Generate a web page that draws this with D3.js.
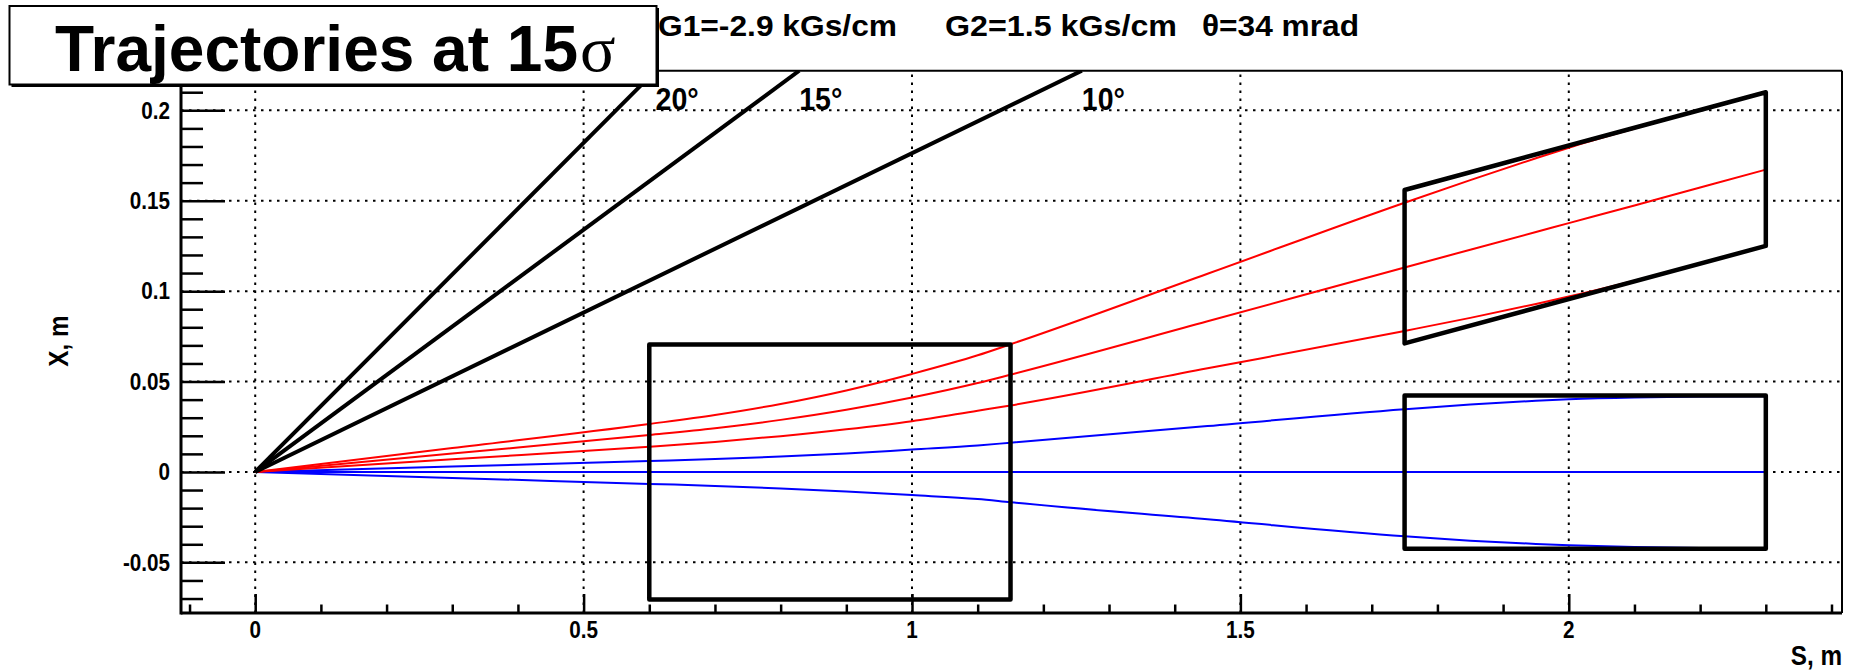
<!DOCTYPE html>
<html>
<head>
<meta charset="utf-8">
<script src="https://cdn.jsdelivr.net/npm/d3@7/dist/d3.min.js"></script>
<style>
  html, body { margin: 0; padding: 0; background: #fff; }
  svg { display: block; }
  text { font-family: "Liberation Sans", Arial, Helvetica, sans-serif; font-weight: bold; fill: #000; }
</style>
</head>
<body>
<svg id="chart" width="1859" height="672"></svg>
<script>
// ---------------- data ----------------
const S = [0, 0.3, 0.6, 0.7, 0.8, 0.9, 1.0, 1.1, 1.15, 1.45, 1.75, 1.85, 1.95, 2.0, 2.1, 2.2, 2.3];
const redUpper  = [0, 0.0132, 0.0265, 0.0315, 0.0376, 0.0451, 0.0542, 0.0645, 0.0706, 0.1096, 0.1489, 0.1614, 0.1735, 0.1793, 0.1899, 0.2001, 0.2100];
const redMiddle = [0, 0.0102, 0.0204, 0.0242, 0.0288, 0.0344, 0.0412, 0.0492, 0.0538, 0.0833, 0.1131, 0.1229, 0.1327, 0.1376, 0.1474, 0.1573, 0.1672];
const redLower  = [0, 0.0070, 0.0139, 0.0166, 0.0198, 0.0236, 0.0281, 0.0339, 0.0368, 0.0573, 0.0780, 0.0852, 0.0929, 0.0970, 0.1058, 0.1152, 0.1250];
const blueUpper = [0, 0.0030, 0.0060, 0.0071, 0.0085, 0.0102, 0.0124, 0.0146, 0.0162, 0.0254, 0.0347, 0.0373, 0.0394, 0.0402, 0.0412, 0.0417, 0.0418];
const blueMiddle= [0, 0, 0, 0, 0, 0, 0, 0, 0, 0, 0, 0, 0, 0, 0, 0, 0];
const blueLower = [0, -0.0033, -0.0066, -0.0077, -0.0091, -0.0108, -0.0128, -0.0150, -0.0168, -0.0262, -0.0356, -0.0380, -0.0398, -0.0405, -0.0415, -0.0420, -0.0422];

// straight lines from the origin (end points on the frame top)
const angleLabels = ["20°", "15°", "10°"];
const angleEndS   = [0.6096, 0.8283, 1.2586];
const angleEndX   = [0.2219, 0.2219, 0.2219];
const angleLabelX = 0.2;

// quadrupole apertures
const quad1 = [[0.6, -0.0705], [0.6, 0.0705], [1.15, 0.0705], [1.15, -0.0705]];
const quad2 = [[1.75, -0.0425], [1.75, 0.0423], [2.3, 0.0423], [2.3, -0.0425]];
const quad2tilt = [[1.75, 0.0711], [1.75, 0.1559], [2.3, 0.2100], [2.3, 0.1250]];

const xTicks = [0, 0.5, 1, 1.5, 2];
const xTickLabels = ["0", "0.5", "1", "1.5", "2"];
const yTicks = [-0.05, 0, 0.05, 0.1, 0.15, 0.2];
const yTickLabels = ["-0.05", "0", "0.05", "0.1", "0.15", "0.2"];
const xMinor = [-0.1, 0.1, 0.2, 0.3, 0.4, 0.6, 0.7, 0.8, 0.9, 1.1, 1.2, 1.3, 1.4, 1.6, 1.7, 1.8, 1.9, 2.1, 2.2, 2.3, 2.4];
const yMinor = [-0.07, -0.06, -0.04, -0.03, -0.02, -0.01, 0.01, 0.02, 0.03, 0.04, 0.06, 0.07, 0.08, 0.09,
                0.11, 0.12, 0.13, 0.14, 0.16, 0.17, 0.18, 0.19, 0.21, 0.22];

const titleText = "Trajectories at 15";
const titleSymbol = "σ";
const headerTexts = ["G1=-2.9 kGs/cm", "G2=1.5 kGs/cm", "θ=34 mrad"];
const xTitle = "S, m";
const yTitle = "X, m";

// ---------------- layout ----------------
const svg = d3.select("#chart");
const W = 1859, H = 672;
const frame = { left: 181, right: 1842, top: 70.7, bottom: 613 };

const x = d3.scaleLinear().domain([-0.113, 2.416]).range([frame.left, frame.right]);
const y = d3.scaleLinear().domain([-0.078, 0.2219]).range([frame.bottom, frame.top]);

svg.append("rect").attr("width", W).attr("height", H).attr("fill", "#fff");

svg.append("defs").append("clipPath").attr("id", "plotclip")
  .append("rect")
  .attr("x", frame.left).attr("y", frame.top)
  .attr("width", frame.right - frame.left).attr("height", frame.bottom - frame.top);

// helper for condensed text
function label(g, px, py, str, size, anchor, sx, rot) {
  return g.append("text")
    .attr("transform", `translate(${px},${py})` + (rot ? ` rotate(${rot})` : "") + ` scale(${sx},1)`)
    .attr("text-anchor", anchor).attr("font-size", size).text(str);
}

// grid
const grid = svg.append("g").attr("stroke", "#000").attr("stroke-width", 2).attr("stroke-dasharray", "2.5,5.5");
grid.selectAll(".gx").data(xTicks).join("line")
  .attr("x1", d => x(d)).attr("x2", d => x(d))
  .attr("y1", frame.bottom).attr("y2", frame.top);
grid.selectAll(".gy").data(yTicks).join("line")
  .attr("y1", d => y(d)).attr("y2", d => y(d))
  .attr("x1", frame.left).attr("x2", frame.right);

// axes via d3 (ticks drawn inward)
const xAxisMajor = d3.axisTop(x).tickValues(xTicks).tickSize(19).tickFormat("");
const xAxisMinor = d3.axisTop(x).tickValues(xMinor).tickSize(8.5).tickFormat("");
const yAxisMajor = d3.axisRight(y).tickValues(yTicks).tickSize(44).tickFormat("");
const yAxisMinor = d3.axisRight(y).tickValues(yMinor).tickSize(22).tickFormat("");

function styleAxis(g) {
  g.select(".domain").remove();
  g.selectAll(".tick line").attr("stroke", "#000").attr("stroke-width", 2.5);
}
svg.append("g").attr("transform", `translate(0,${frame.bottom})`).call(xAxisMinor).call(styleAxis);
svg.append("g").attr("transform", `translate(0,${frame.bottom})`).call(xAxisMajor).call(styleAxis);
svg.append("g").attr("transform", `translate(${frame.left},0)`).call(yAxisMinor).call(styleAxis);
svg.append("g").attr("transform", `translate(${frame.left},0)`).call(yAxisMajor).call(styleAxis);

// curves
const plot = svg.append("g").attr("clip-path", "url(#plotclip)");
const line = d3.line().x(d => x(d[0])).y(d => y(d[1])).curve(d3.curveMonotoneX);

const redSeries = [redUpper, redMiddle, redLower];
const blueSeries = [blueUpper, blueMiddle, blueLower];
blueSeries.forEach(v => {
  plot.append("path").attr("d", line(S.map((s, i) => [s, v[i]])))
    .attr("fill", "none").attr("stroke", "#0000ff").attr("stroke-width", 2);
});
redSeries.forEach(v => {
  plot.append("path").attr("d", line(S.map((s, i) => [s, v[i]])))
    .attr("fill", "none").attr("stroke", "#ff0000").attr("stroke-width", 2);
});

// angle lines
angleEndS.forEach((s, i) => {
  plot.append("line")
    .attr("x1", x(0)).attr("y1", y(0))
    .attr("x2", x(s)).attr("y2", y(angleEndX[i]))
    .attr("stroke", "#000").attr("stroke-width", 4);
});

// quadrupole boxes
const poly = d3.line().x(d => x(d[0])).y(d => y(d[1]));
[quad1, quad2, quad2tilt].forEach(q => {
  plot.append("path").attr("d", poly(q) + "Z")
    .attr("fill", "none").attr("stroke", "#000").attr("stroke-width", 4.5)
    .attr("stroke-linejoin", "round");
});

// angle labels
angleLabels.forEach((d, i) => {
  label(svg, x(angleEndS[i]), y(angleLabelX), d, 31, "start", 0.92);
});

// frame
svg.append("line").attr("x1", frame.left).attr("x2", frame.right).attr("y1", frame.top).attr("y2", frame.top)
  .attr("stroke", "#000").attr("stroke-width", 2);
svg.append("line").attr("x1", frame.right).attr("x2", frame.right).attr("y1", frame.top).attr("y2", frame.bottom)
  .attr("stroke", "#000").attr("stroke-width", 2);
svg.append("line").attr("x1", frame.left).attr("x2", frame.right).attr("y1", frame.bottom).attr("y2", frame.bottom)
  .attr("stroke", "#000").attr("stroke-width", 3);
svg.append("line").attr("x1", frame.left).attr("x2", frame.left).attr("y1", frame.top).attr("y2", frame.bottom + 1.5)
  .attr("stroke", "#000").attr("stroke-width", 3);

// tick labels
xTickLabels.forEach((d, i) => label(svg, x(xTicks[i]), 638, d, 23.5, "middle", 0.88));
yTickLabels.forEach((d, i) => label(svg, 170, y(yTicks[i]) + 8.3, d, 23.5, "end", 0.88));

// axis titles
label(svg, frame.right, 665, xTitle, 27, "end", 0.9);
label(svg, 68, 341, yTitle, 27, "middle", 0.9, -90);

// header texts
const headerX = [658, 945, 1202];
const headerW = [239, 232, 157];
svg.selectAll(".hd").data(headerTexts).join("text")
  .attr("x", (d, i) => headerX[i]).attr("y", 36)
  .attr("font-size", 30)
  .attr("textLength", (d, i) => headerW[i]).attr("lengthAdjust", "spacingAndGlyphs")
  .text(d => d);

// title pave
svg.append("rect").attr("x", 11.5).attr("y", 8).attr("width", 647.5).attr("height", 79).attr("fill", "#000");
svg.append("rect").attr("x", 9.5).attr("y", 6).attr("width", 647).attr("height", 78.5)
  .attr("fill", "#fff").attr("stroke", "#000").attr("stroke-width", 2);
const titleNode = svg.append("text").attr("x", 55).attr("y", 71).attr("font-size", 64)
  .text(titleText);
const titleW = titleNode.node().getComputedTextLength();
svg.append("text").attr("x", 55 + titleW + 2).attr("y", 71).attr("font-size", 66)
  .style("font-family", "'Liberation Serif', 'DejaVu Serif', serif").style("font-weight", "normal")
  .text(titleSymbol);
</script>
</body>
</html>
